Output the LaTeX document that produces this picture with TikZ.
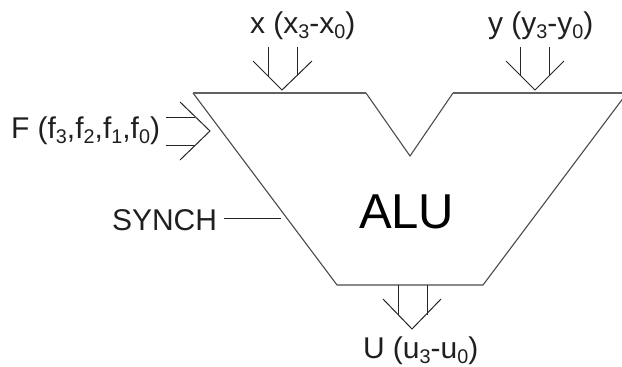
\documentclass[tikz,border=0pt]{standalone}
\usepackage{fontspec}
\setmainfont{Liberation Sans}
\newcommand{\sbs}[1]{\raisebox{-.17em}{\scalebox{.66}{#1}}}
\tikzset{
  px/.style={x=1pt,y=-1pt},
  wire/.style={draw=black!85,line width=1pt},
  edge/.style={draw=black!70,line width=1.1pt,line join=miter},
  topedge/.style={draw=black!62,line width=2pt},
  lab/.style={anchor=base west,inner sep=0pt,outer sep=0pt,text=black!88,font=\fontsize{30}{33}\selectfont},
  big/.style={anchor=base west,inner sep=0pt,outer sep=0pt,text=black,font=\fontsize{49}{52}\selectfont}
}
\begin{document}
\begin{tikzpicture}[px]
\useasboundingbox (0,0) rectangle (622,367);
\clip (0,0) rectangle (622,367);
% body corners
\coordinate (tl) at (193,93);
\coordinate (n1) at (366,93);
\coordinate (nb) at (410,156);
\coordinate (n2) at (453,93);
\coordinate (tr) at (627,93);
\coordinate (br) at (483,285);
\coordinate (bl) at (337,285);
\draw[edge] (tl) -- (bl) -- (br) -- (tr);
\draw[edge] (n1) -- (nb) -- (n2);
\draw[topedge] (tl) -- (n1);
\draw[topedge] (n2) -- (tr);
% labels
\node[big] (alu) at (359,228) {ALU};
\node[lab] (xl) at (250,33) {x (x\sbs{3}-x\sbs{0})};
\node[lab] (yl) at (488,33) {y (y\sbs{3}-y\sbs{0})};
\node[lab] (fl) at (11,138) {F (f\sbs{3},f\sbs{2},f\sbs{1},f\sbs{0})};
\node[lab] (sl) at (112,230) {SYNCH};
\node[lab] (ul) at (363,358) {U (u\sbs{3}-u\sbs{0})};
% x bus
\coordinate (xa) at (268,47); \coordinate (xa2) at (268,76);
\coordinate (xb) at (297,47); \coordinate (xb2) at (297,76);
\coordinate (xt) at (282,90); \coordinate (xh1) at (253,61); \coordinate (xh2) at (312,61);
\draw[wire] (xa) -- (xa2);
\draw[wire] (xb) -- (xb2);
\draw[wire] (xh1) -- (xt) -- (xh2);
% y bus
\coordinate (ya) at (520,47); \coordinate (ya2) at (520,76);
\coordinate (yb) at (549,47); \coordinate (yb2) at (549,76);
\coordinate (yt) at (535,90); \coordinate (yh1) at (506,61); \coordinate (yh2) at (564,61);
\draw[wire] (ya) -- (ya2);
\draw[wire] (yb) -- (yb2);
\draw[wire] (yh1) -- (yt) -- (yh2);
% F bus
\coordinate (fa) at (166,117); \coordinate (fa2) at (195,117);
\coordinate (fb) at (166,145); \coordinate (fb2) at (195,145);
\coordinate (ft) at (210,131); \coordinate (fh1) at (180,102); \coordinate (fh2) at (180,160);
\draw[wire] (fa) -- (fa2);
\draw[wire] (fb) -- (fb2);
\draw[wire] (fh1) -- (ft) -- (fh2);
% SYNCH
\coordinate (sa) at (224,218); \coordinate (sb) at (281,218);
\draw[wire] (sa) -- (sb);
% U bus
\coordinate (ua) at (398,285); \coordinate (ua2) at (398,315);
\coordinate (ub) at (427,285); \coordinate (ub2) at (427,315);
\coordinate (ut) at (412,329); \coordinate (uh1) at (383,299); \coordinate (uh2) at (441,299);
\draw[wire] (ua) -- (ua2);
\draw[wire] (ub) -- (ub2);
\draw[wire] (uh1) -- (ut) -- (uh2);
\end{tikzpicture}
\end{document}
